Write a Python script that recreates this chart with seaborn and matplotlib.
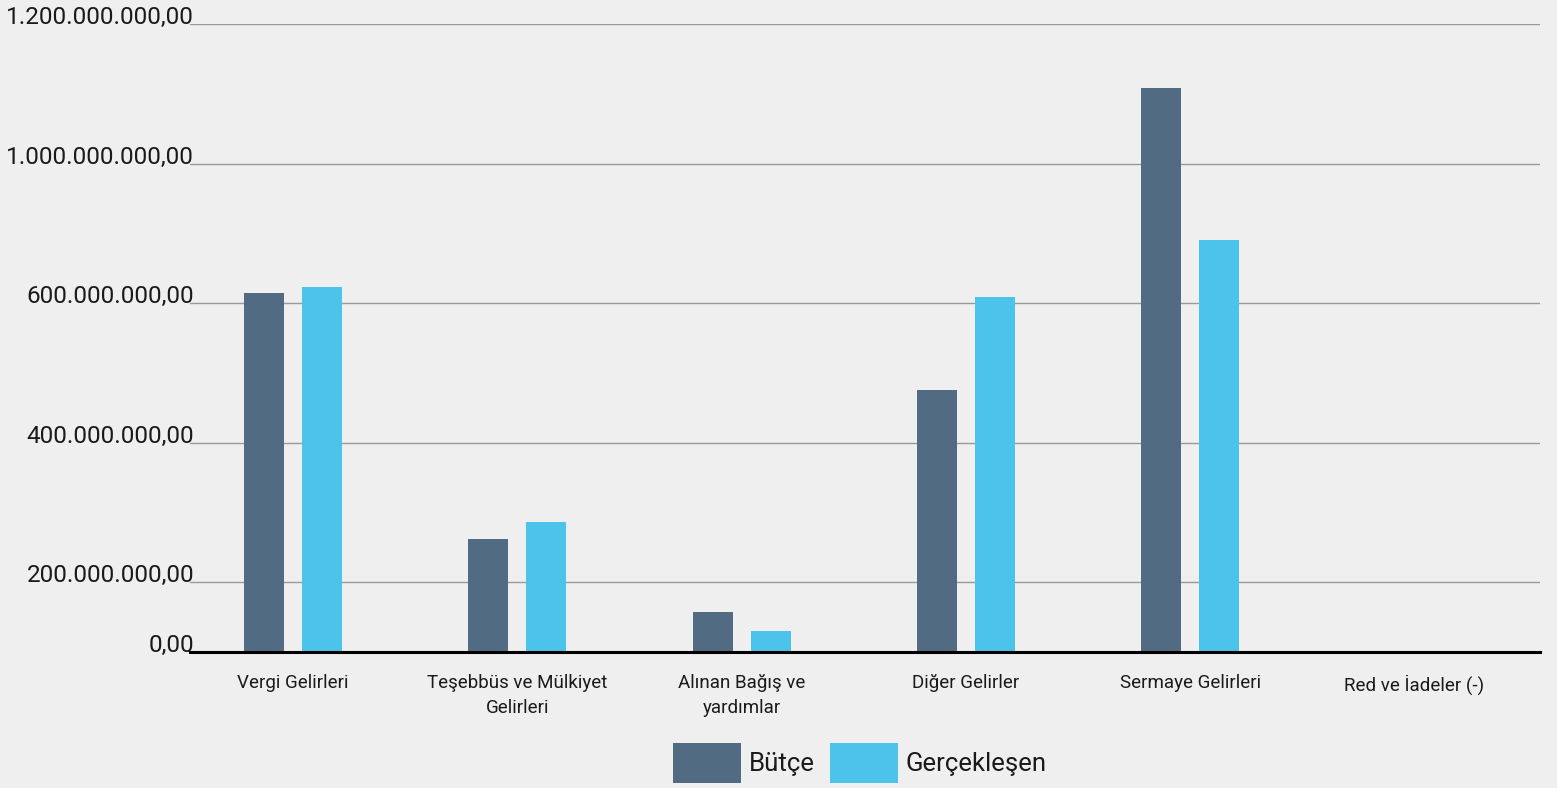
import pandas as pd
from matplotlib import pyplot as plt
import seaborn as sns

categories = [
    "Vergi Gelirleri",
    "Teşebbüs ve Mülkiyet\nGelirleri",
    "Alınan Bağış ve\nyardımlar",
    "Diğer Gelirler",
    "Sermaye Gelirleri",
    "Red ve İadeler (-)",
]
butce = [514e6, 162e6, 57e6, 375e6, 808e6, 0]
gerceklesen = [523e6, 186e6, 30e6, 509e6, 590e6, 0]
series = ["Bütçe", "Gerçekleşen"]
colors = ["#516c82", "#4cc3eb"]

# tick positions of the gridlines and the labels printed next to them
tick_vals = [0, 100e6, 300e6, 500e6, 700e6, 900e6]
tick_labels = ["0,00", "200.000.000,00", "400.000.000,00", "600.000.000,00",
               "1.000.000.000,00", "1.200.000.000,00"]

df = pd.DataFrame({"kategori": categories, "Bütçe": butce, "Gerçekleşen": gerceklesen})
df = df.melt(id_vars="kategori", var_name="seri", value_name="deger")

sns.set_style("white")
plt.rcParams["font.family"] = ["Roboto", "DejaVu Sans"]
bg = "#efefef"

fig = plt.figure(figsize=(15.57, 7.88), dpi=100, facecolor=bg)
ax = fig.add_axes([190 / 1557, 1 - 652 / 788, 1350 / 1557, 628 / 788])
ax.set_facecolor(bg)

sns.barplot(
    data=df,
    x="kategori",
    y="deger",
    hue="seri",
    hue_order=series,
    palette=colors,
    width=0.518,
    gap=0.31,
    saturation=1,
    linewidth=0,
    ax=ax,
    legend=False,
)

ax.set_ylim(0, 900e6)
ax.set_xlim(-0.46, 5.56)
ax.set_yticks(tick_vals)
ax.set_yticklabels(tick_labels, fontsize=17.5, color="#1a1a1a")
for t in ax.get_yticklabels():
    t.set_va("baseline")
ax.tick_params(axis="y", length=0, pad=-3)
ax.tick_params(axis="x", length=0, pad=16, labelsize=13.5, labelcolor="#1a1a1a")
for t in ax.get_xticklabels():
    t.set_linespacing(1.45)

ax.yaxis.grid(True, color="#9a9a9a", linewidth=1)
ax.set_axisbelow(True)
for s in ["top", "right", "left"]:
    ax.spines[s].set_visible(False)
ax.spines["bottom"].set_color("black")
ax.spines["bottom"].set_linewidth(2.2)
ax.set_xlabel("")
ax.set_ylabel("")

handles = [plt.Rectangle((0, 0), 1, 1, color=c, linewidth=0) for c in colors]
leg = fig.legend(
    handles,
    series,
    loc="lower center",
    bbox_to_anchor=(860 / 1557, 0.0),
    ncol=2,
    frameon=False,
    fontsize=18.5,
    handlelength=2.65,
    handleheight=2.0,
    handletextpad=0.3,
    columnspacing=0.6,
    borderpad=0,
    borderaxespad=0.2,
)
for t in leg.get_texts():
    t.set_color("#1a1a1a")

plt.savefig("out.png", dpi=100, facecolor=bg)
